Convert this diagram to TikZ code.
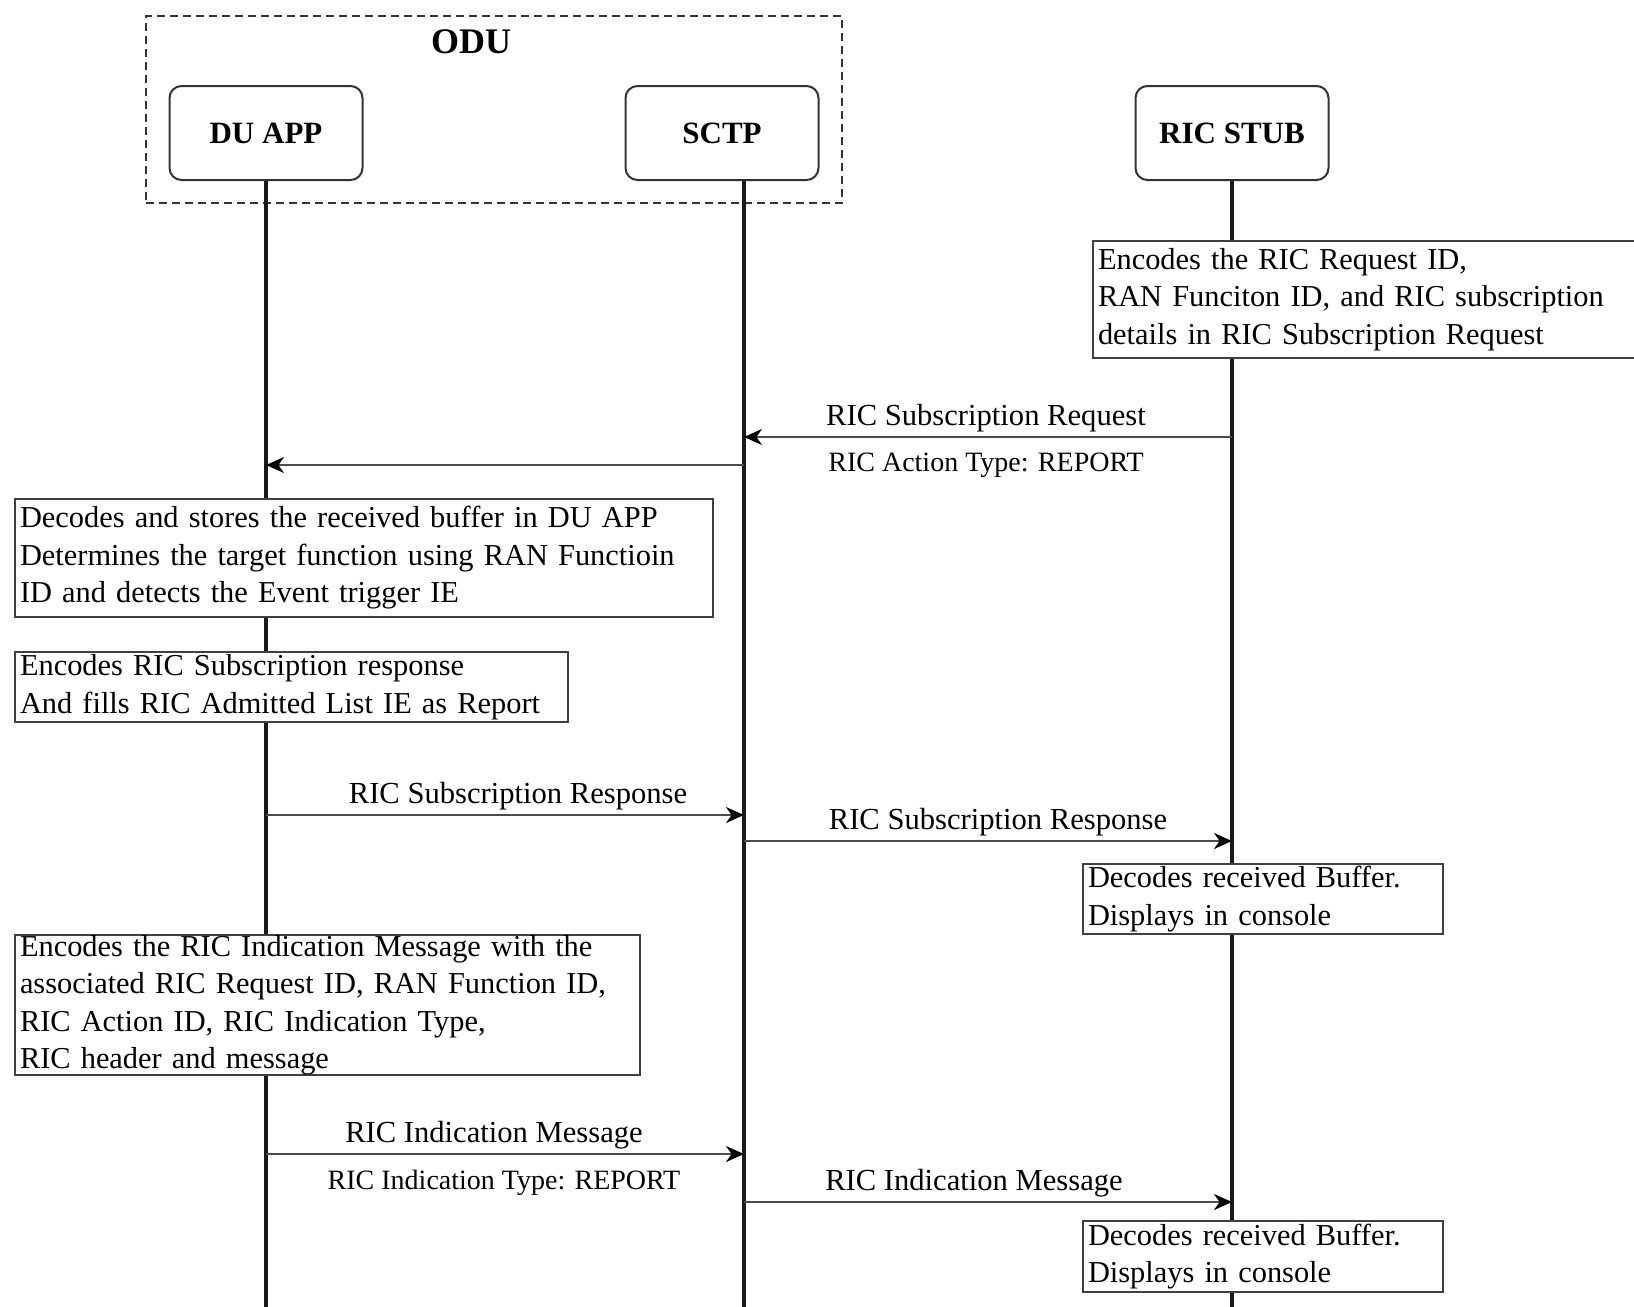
\documentclass[tikz,border=0pt]{standalone}
\usepackage{fontspec}
\setmainfont{Liberation Serif}
\usetikzlibrary{arrows.meta}

\tikzset{
    actor/.style={draw=black!80, line width=1pt, rounded corners=6pt, fill=white,
        minimum width=96.5pt, minimum height=47pt, font=\fontsize{15.5}{18.75}\selectfont\bfseries},
    odubox/.style={draw=black!80, dash pattern=on 4pt off 2.5pt, line width=1pt},
    notebox/.style={draw=black!75, line width=1pt, fill=white, align=left, text width=#1,
        inner xsep=2.5pt, inner ysep=0pt, anchor=north west, font=\fontsize{15.2}{18.75}\selectfont},
    lifeline/.style={line width=2pt, black!90},
    msg/.style={line width=1.1pt, black!70, -{Stealth[length=9pt, width=8pt, inset=2.8pt, color=black]}},
    msglabel/.style={inner sep=1pt, text=black, font=\fontsize{15.3}{18.75}\selectfont},
    msgnote/.style={inner sep=1pt, text=black, font=\fontsize{14}{17}\selectfont},
}

\begin{document}
\begin{tikzpicture}[x=0.5pt, y=-0.5pt]
    \useasboundingbox (0,0) rectangle (1634,1307);

    \node[odubox, minimum width=348pt, minimum height=93.5pt] (odu) at (494,109.5) {};
    \node[font=\fontsize{18}{20}\selectfont\bfseries] (odulabel) at (471,42) {ODU};

    \node[actor] (duapp) at (266,133) {DU APP};
    \node[actor] (sctp) at (722,133) {SCTP};
    \node[actor] (ricstub) at (1232,133) {RIC STUB};

    \coordinate (duend) at (266,1312);
    \coordinate (sctpend) at (744,1312);
    \coordinate (ricend) at (1232,1312);

    \draw[lifeline] (duapp.south) -- (duend);
    \draw[lifeline] (sctp.south -| sctpend) -- (sctpend);
    \draw[lifeline] (ricstub.south) -- (ricend);

    \node[notebox=275pt, minimum height=58.5pt] (ricreq) at (1092,240)
        {Encodes the RIC Request ID,\\RAN Funciton ID, and RIC subscription\\details in RIC Subscription Request};
    \node[notebox=344pt, minimum height=59pt] (dudec) at (14,498)
        {Decodes and stores the received buffer in DU APP\\Determines the target function using RAN Functioin\\ID and detects the Event trigger IE};
    \node[notebox=271.5pt, minimum height=35pt] (duenc) at (14,651)
        {Encodes RIC Subscription response\\And fills RIC Admitted List IE as Report};
    \node[notebox=175pt, minimum height=35pt] (ricdec) at (1082,863)
        {Decodes received Buffer.\\Displays in console};
    \node[notebox=307.5pt, minimum height=70pt] (duind) at (14,934)
        {Encodes the RIC Indication Message with the\\associated RIC Request ID, RAN Function ID,\\RIC Action ID, RIC Indication Type,\\RIC header and message};
    \node[notebox=175pt, minimum height=35.5pt] (ricshow) at (1082,1220)
        {Decodes received Buffer.\\Displays in console};

    \coordinate (req) at (0,437);
    \coordinate (fwd) at (0,465);
    \coordinate (rsp) at (0,815);
    \coordinate (rspfwd) at (0,841);
    \coordinate (ind) at (0,1154);
    \coordinate (indfwd) at (0,1202);

    \draw[msg] (ricend |- req) -- (sctpend |- req)
        node[msglabel, midway, above=1pt, xshift=-1pt] (reqlabel) {RIC Subscription Request}
        node[msgnote, midway, below=6.5pt, xshift=-1pt] (reqnote) {RIC Action Type: REPORT};
    \draw[msg] (sctpend |- fwd) -- (duend |- fwd);
    \draw[msg] (duend |- rsp) -- (sctpend |- rsp)
        node[msglabel, midway, above=1pt, xshift=6.5pt] (rsplabel) {RIC Subscription Response};
    \draw[msg] (sctpend |- rspfwd) -- (ricend |- rspfwd)
        node[msglabel, midway, above=1pt, xshift=5pt] (rspfwdlabel) {RIC Subscription Response};
    \draw[msg] (duend |- ind) -- (sctpend |- ind)
        node[msglabel, midway, above=1pt, xshift=-5.5pt] (indlabel) {RIC Indication Message}
        node[msgnote, midway, below=6.5pt, xshift=-0.5pt] (indnote) {RIC Indication Type: REPORT};
    \draw[msg] (sctpend |- indfwd) -- (ricend |- indfwd)
        node[msglabel, midway, above=1pt, xshift=-7pt] (indfwdlabel) {RIC Indication Message};
\end{tikzpicture}
\end{document}
